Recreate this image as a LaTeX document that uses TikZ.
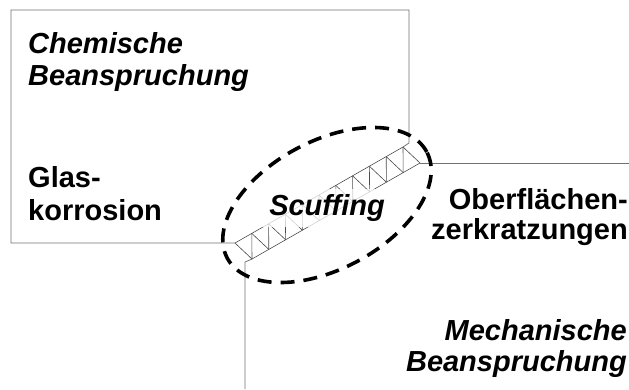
\documentclass[tikz,border=0pt]{standalone}
\usepackage{fontspec}
\setmainfont{Liberation Sans}
\usetikzlibrary{calc,shapes.geometric}
\tikzset{
  edge/.style={draw=black!55, line width=0.8pt},
  truss/.style={draw=black!70, line width=0.6pt},
  ring/.style={draw=black, ellipse, dash pattern=on 14pt off 9pt, line width=3.6pt, inner sep=0pt},
  lbl/.style={font=\fontsize{29}{34}\selectfont\bfseries, inner sep=0pt, anchor=base west},
  ilbl/.style={font=\fontsize{29}{34}\selectfont\bfseries\itshape, inner sep=0pt, anchor=base west},
  rlbl/.style={lbl, anchor=base east},
  rilbl/.style={ilbl, anchor=base east},
}
\begin{document}
\begin{tikzpicture}[x=1pt, y=-1pt]
\useasboundingbox (0,0) rectangle (629,389);
\fill[white] (0,0) rectangle (629,389);
\clip (0,0) rectangle (629,389);
% corner points of the band
\coordinate (A) at (235,243);
\coordinate (B) at (403,147);
\coordinate (C) at (420,163);
\coordinate (D) at (252,259);
\coordinate (tl) at (11,10);
\coordinate (tr) at (409,10);
\coordinate (rt) at (409,143);
\coordinate (bl) at (11,243);
\coordinate (rr) at (629,163);
\coordinate (vb) at (245,389);
\coordinate (vt) at (245,262);
% outlines
\draw[edge] (A) -- (bl) -- (tl) -- (tr) -- (rt) -- (B);
\draw[edge] (rr) -- (C);
\draw[edge] (vb) -- (vt) -- (D);
% band with truss
\draw[truss] (A) -- (B) (D) -- (C);
\foreach \k in {0,...,10} {
  \draw[truss] ($(A)!\k/10!(B)$) -- ($(D)!\k/10!(C)$);
}
\foreach \k [evaluate=\k as \j using \k-1] in {1,...,10} {
  \draw[truss] ($(A)!\k/10!(B)$) -- ($(D)!\j/10!(C)$);
}
% label over band
\node[fill=white, fill opacity=0.75, text opacity=1, minimum width=134pt, minimum height=38pt, inner sep=0pt,
      font=\fontsize{29}{34}\selectfont\bfseries\itshape] (scuff) at (327,207.5) {Scuffing};
% dashed ellipse
\node[ring, minimum width=226pt, minimum height=128pt, rotate=28] (ring) at (327,205) {};
% texts
\node[ilbl] (chem1) at (28,53) {Chemische};
\node[ilbl] (chem2) at (28,85) {Beanspruchung};
\node[lbl] (glas1) at (28,187) {Glas-};
\node[lbl] (glas2) at (28,220) {korrosion};
\node[rlbl] (ober1) at (628,209) {Oberflächen-};
\node[rlbl] (ober2) at (628,239) {zerkratzungen};
\node[rilbl] (mech1) at (627,340) {Mechanische};
\node[rilbl] (mech2) at (627,371) {Beanspruchung};
\end{tikzpicture}
\end{document}
